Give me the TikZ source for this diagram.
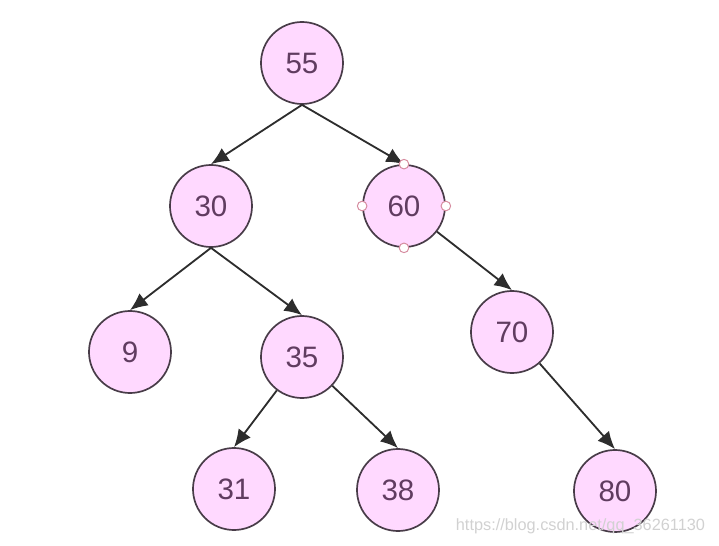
\documentclass[tikz,border=0pt]{standalone}
\usepackage{fontspec}
\setmainfont{Liberation Sans}
\usetikzlibrary{arrows.meta}
\definecolor{nodefill}{RGB}{255,217,255}
\definecolor{nodeline}{RGB}{72,60,72}
\definecolor{nodetext}{RGB}{96,60,96}
\definecolor{edgeline}{RGB}{45,45,45}
\definecolor{handleline}{RGB}{214,140,160}

\begin{document}
\begin{tikzpicture}[x=0.025cm,y=-0.025cm,
    vertex/.style={circle,draw=nodeline,line width=1.2pt,fill=nodefill,minimum size=2.05cm,inner sep=0pt,text=nodetext,font=\fontsize{21}{24}\selectfont},
    edge/.style={draw=edgeline,line width=1.3pt,-{Latex[length=4.4mm,width=3.8mm]}},
    handle/.style={circle,draw=handleline,fill=white,line width=0.7pt,minimum size=0.24cm,inner sep=0pt}]
        \useasboundingbox (0,0) rectangle (719,546);
        % Vertices
        \node[vertex] (55) at (302,63) {55};
        \node[vertex] (30) at (211,206) {30};
        \node[vertex] (60) at (404,206) {60};
        \node[vertex] (9) at (130,352) {9};
        \node[vertex] (35) at (302,357) {35};
        \node[vertex] (70) at (512,332) {70};
        \node[vertex] (31) at (234,489) {31};
        \node[vertex] (38) at (398,490) {38};
        \node[vertex] (80) at (615,491) {80};
        % Edges
        \draw[edge] (55.south) -- (30.north);
        \draw[edge] (55.south) -- (60.north);
        \draw[edge] (30.south) -- (9.north);
        \draw[edge] (30.south) -- (35.north);
        \draw[edge] (60) -- (70.north);
        \draw[edge] (35) -- (31.north);
        \draw[edge] (35) -- (38.north);
        \draw[edge] (70) -- (80.north);
        % Handles
        \foreach \side in {north,south,east,west}
            \node[handle] (h\side) at (60.\side) {};
        % Watermark
        \node[anchor=east,text=black!18,font=\fontsize{11.6}{14}\selectfont] (mark) at (710,526) {https://blog.csdn.net/qq\_36261130};
    \end{tikzpicture}
\end{document}
